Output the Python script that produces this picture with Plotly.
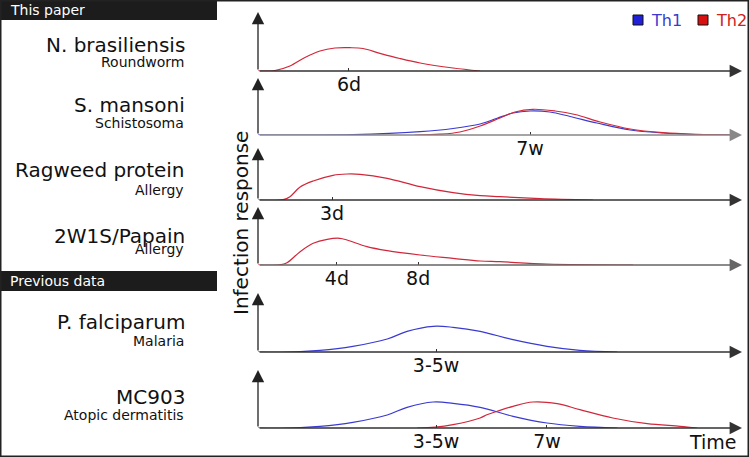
import plotly.graph_objects as go

W, H = 749, 457

# ---------------- data (time in arbitrary units 0-100, response in arbitrary units) ----------------
# Panel 1: N. brasiliensis (Th2)
nb_t = [0, 3.5, 6.6, 9.7, 12.8, 15.9, 19.0, 21.7, 25.2, 29.3, 33.5, 40.3, 45.9]
nb_th2 = [0, 0.5, 5, 13.5, 20, 23, 23.3, 22.5, 17.7, 12.5, 8, 3, 0]

# Panel 2: S. mansoni (Th1 + Th2)
sm_t1 = [0, 8.7, 19.6, 33.5, 40.3, 45.9, 49.4, 52.7, 56.2, 60.3, 64.5, 70.0, 76.9, 83.7, 90.7, 98.6]
sm_th1 = [0, 0, 0.3, 3.3, 6.5, 11, 16.7, 22, 24, 23, 18.5, 12, 5, 2, 0.5, 0]
sm_t2 = [32.4, 37.6, 41.7, 45.9, 50.0, 53.1, 56.8, 61.4, 65.5, 70.7, 76.9, 83.7, 90.7, 98.6]
sm_th2 = [0, 0.8, 3, 9, 17, 23, 25.7, 24, 20.5, 13, 6, 2.3, 0.7, 0]

# Panel 3: Ragweed protein (Th2)
rw_t = [0, 5.2, 6.6, 8.7, 11.4, 15.5, 18.4, 21.1, 26.7, 33.5, 40.3, 45.9, 50.0, 58.3, 69.2]
rw_th2 = [0, 0.3, 3.3, 13, 19, 24.7, 26, 25.7, 21.7, 13.3, 7.3, 4.3, 3.3, 1.5, 0]

# Panel 4: 2W1S/Papain (Th2)
pa_t = [0, 4.5, 6.0, 8.7, 11.4, 14.3, 16.9, 18.4, 22.5, 26.7, 33.5, 40.3, 45.9, 50.0, 59.7, 77.5]
pa_th2 = [0, 0.2, 2.3, 13.3, 21.7, 25.7, 26.7, 25, 18.3, 14.3, 10, 6.7, 4, 3.3, 1, 0]

# Panel 5: P. falciparum (Th1)
pf_t = [0, 4.5, 12.8, 19.6, 26.7, 30.8, 36.2, 40.3, 45.9, 52.7, 59.7, 66.5, 74.2]
pf_th1 = [0, -0.3, 1.7, 5.7, 13, 20.7, 25.7, 24.7, 20.7, 12.3, 5.7, 1.7, 0]

# Panel 6: MC903 (Th1 + Th2)
mc_t1 = [0, 4.5, 12.8, 19.6, 26.7, 30.8, 36.2, 40.3, 45.9, 52.7, 59.7, 66.5, 74.2]
mc_th1 = [0, -0.3, 1.7, 5.7, 13, 20.7, 26, 24.7, 20.7, 11.7, 5, 1.7, 0]
mc_t2 = [32.9, 36.6, 40.3, 45.9, 47.3, 49.4, 52.7, 56.8, 61.8, 66.5, 73.3, 80.4, 87.2, 90.7]
mc_th2 = [0, 0.8, 3.3, 10, 13.3, 16.7, 21.7, 26, 24.3, 18.3, 10, 4.3, 1.7, 0]

# Tick positions / labels per panel
tick_vals = [[18.8], [56.2], [15.3], [16.3, 33.1], [36.8], [36.8, 59.7]]
tick_text = [["6d"], ["7w"], ["3d"], ["4d", "8d"], ["3-5w"], ["3-5w", "7w"]]

# Left-hand labels
names = ["N. brasiliensis", "S. mansoni", "Ragweed protein", "2W1S/Papain", "P. falciparum", "MC903"]
subnames = ["Roundworm", "Schistosoma", "Allergy", "Allergy", "Malaria", "Atopic dermatitis"]
section_titles = ["This paper", "Previous data"]
legend_names = ["Th1", "Th2"]

# ---------------- layout geometry (pixels) ----------------
RED = "#d0283a"
BLUE = "#3a3ad0"
baselines = [71, 135, 200, 265, 352, 428]
tips = [12, 78, 148, 207, 293, 370]
axis_cols = ["#333333", "#888888", "#333333", "#666666", "#333333", "#333333"]
name_y = [45, 105, 170, 236, 322, 397]
sub_y = [62, 123, 190, 249, 341, 415]
X0, X1 = 258, 742
FONT = "DejaVu Sans"

def px(x):
    return x / W

def py(y):
    return 1 - y / H

series = [
    [(nb_t, nb_th2, RED)],
    [(sm_t1, sm_th1, BLUE), (sm_t2, sm_th2, RED)],
    [(rw_t, rw_th2, RED)],
    [(pa_t, pa_th2, RED)],
    [(pf_t, pf_th1, BLUE)],
    [(mc_t1, mc_th1, BLUE), (mc_t2, mc_th2, RED)],
]

fig = go.Figure()
layout = dict(
    width=W, height=H, margin=dict(l=0, r=0, t=0, b=0),
    paper_bgcolor="white", plot_bgcolor="rgba(0,0,0,0)",
    font=dict(family=FONT, color="#111"),
    showlegend=False,
)
annotations = []
shapes = []

for i in range(6):
    sfx = "" if i == 0 else str(i + 1)
    xa, ya = "x" + sfx, "y" + sfx
    b = baselines[i]
    layout["xaxis" + sfx] = dict(
        domain=[px(X0), px(X1)], range=[0, 100], anchor=ya,
        showgrid=False, zeroline=False, showline=False,
        tickvals=tick_vals[i], ticktext=tick_text[i],
        ticks="inside", ticklen=3, tickwidth=1, tickcolor="#333",
        tickfont=dict(size=19, family=FONT, color="#111"),
        fixedrange=True,
    )
    layout["yaxis" + sfx] = dict(
        domain=[py(b), py(b - 60)], range=[0, 60], anchor=xa,
        showgrid=False, zeroline=False, showline=False, showticklabels=False,
        fixedrange=True,
    )
    # axis arrows
    annotations.append(dict(xref=xa, yref=ya, axref=xa, ayref=ya, x=100, y=0, ax=0, ay=0,
                            text="", showarrow=True, arrowhead=2, arrowsize=1.9,
                            arrowwidth=1.3, arrowcolor=axis_cols[i]))
    annotations.append(dict(xref=xa, yref=ya, axref=xa, ayref=ya, x=0, y=b - tips[i], ax=0, ay=0,
                            text="", showarrow=True, arrowhead=2, arrowsize=1.9,
                            arrowwidth=1.3, arrowcolor="#222"))
    for (tx, ty, col) in series[i]:
        fig.add_trace(go.Scatter(x=tx, y=ty, xaxis=xa, yaxis=ya, mode="lines",
                                 line=dict(color=col, width=1.2, shape="spline", smoothing=1.0),
                                 showlegend=False, hoverinfo="skip"))
    # left labels
    annotations.append(dict(xref="paper", yref="paper", x=px(187), y=py(name_y[i]),
                            xanchor="right", yanchor="middle", text=names[i], showarrow=False,
                            font=dict(size=20, family=FONT, color="#111")))
    annotations.append(dict(xref="paper", yref="paper", x=px(186), y=py(sub_y[i]),
                            xanchor="right", yanchor="middle", text=subnames[i], showarrow=False,
                            font=dict(size=14, family=FONT, color="#111")))

# legend (squares + coloured labels)
for name, sq_x, sq_col, txt_col in zip(legend_names, [633, 698], ["#2020d8", "#d81010"], [BLUE, "#d02020"]):
    shapes.append(dict(type="rect", xref="paper", yref="paper", x0=px(sq_x), x1=px(sq_x + 10),
                       y0=py(25), y1=py(15), fillcolor=sq_col, line=dict(color="#111", width=1)))
    annotations.append(dict(xref="paper", yref="paper", x=px(sq_x + 16), y=py(20), xanchor="left",
                            yanchor="middle", text=name, showarrow=False,
                            font=dict(size=16, family=FONT, color=txt_col)))

# section headers
for (y0, y1), title in zip([(0, 20), (271, 291)], section_titles):
    shapes.append(dict(type="rect", xref="paper", yref="paper", x0=0, x1=px(217), y0=py(y1), y1=py(y0),
                       fillcolor="#1c1c1c", line=dict(width=0), layer="below"))
    annotations.append(dict(xref="paper", yref="paper", x=px(8), y=py((y0 + y1) / 2),
                            xanchor="left", yanchor="middle", text=title, showarrow=False,
                            font=dict(size=14, family=FONT, color="white")))

# y title and time label
annotations.append(dict(xref="paper", yref="paper", x=px(241), y=py(223), text="Infection response",
                        textangle=-90, showarrow=False, xanchor="center", yanchor="middle",
                        font=dict(size=20, family=FONT, color="#111")))
annotations.append(dict(xref="paper", yref="paper", x=px(713), y=py(442), text="Time",
                        showarrow=False, xanchor="center", yanchor="middle",
                        font=dict(size=19, family=FONT, color="#111")))

# outer frame
shapes.append(dict(type="rect", xref="paper", yref="paper", x0=0, x1=1, y0=0, y1=1,
                   line=dict(color="#222", width=3), fillcolor="rgba(0,0,0,0)"))

layout["annotations"] = annotations
layout["shapes"] = shapes
fig.update_layout(**layout)

fig.write_html("out.html", config={"displayModeBar": False, "staticPlot": True},
               post_script="document.body.style.margin='0';")
